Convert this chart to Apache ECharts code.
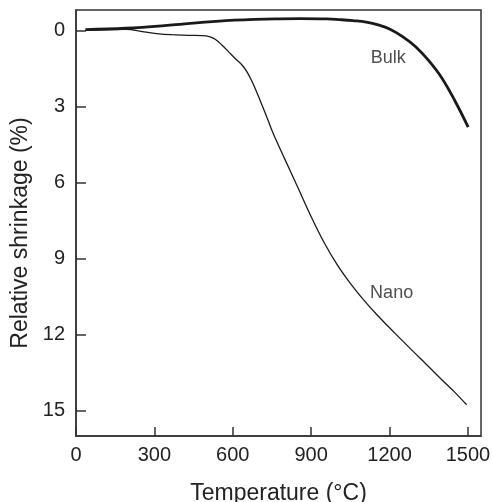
<!DOCTYPE html>
<html>
<head>
<meta charset="utf-8">
<script src="https://cdn.jsdelivr.net/npm/echarts@6/dist/echarts.min.js"></script>
<style>html,body{margin:0;padding:0;background:#fff;}#c{width:492px;height:502px;}</style>
</head>
<body>
<div id="c"></div>
<script>
var xTicks = [0, 300, 600, 900, 1200, 1500];
var yTicks = [0, 3, 6, 9, 12, 15];

var bulkTemp = [36, 190, 381, 573, 764, 857, 960, 1010, 1060, 1111, 1160, 1200, 1250, 1300, 1350, 1400, 1450, 1501];
var bulkShrink = [-0.03, -0.08, -0.22, -0.38, -0.45, -0.46, -0.45, -0.42, -0.38, -0.32, -0.2, -0.05, 0.25, 0.65, 1.2, 1.88, 2.78, 3.82];

var nanoTemp = [36, 120, 190, 260, 317, 381, 430, 483, 510, 534, 560, 585, 610, 637, 655, 675, 695, 713, 735, 754, 800, 850, 900, 950, 1000, 1050, 1100, 1150, 1200, 1250, 1300, 1350, 1400, 1450, 1495];
var nanoShrink = [0, -0.03, -0.04, 0.06, 0.14, 0.18, 0.2, 0.21, 0.25, 0.36, 0.6, 0.86, 1.12, 1.39, 1.65, 2.05, 2.52, 2.98, 3.55, 4.05, 5.1, 6.22, 7.35, 8.38, 9.25, 9.98, 10.62, 11.2, 11.73, 12.25, 12.76, 13.27, 13.78, 14.28, 14.77];

var curveLabels = ['Bulk', 'Nano'];
var labelTemp = [1195, 1208];
var labelShrink = [1.08, 10.35];

function pairs(xs, ys) { return xs.map(function (x, i) { return [x, ys[i]]; }); }

var FONT = "'Liberation Sans', Arial, Helvetica, sans-serif";
var INK = '#222';
var AXIS = '#333';

var chart = echarts.init(document.getElementById('c'));
chart.setOption({
  animation: false,
  backgroundColor: '#fff',
  grid: {left: 76, top: 10, right: 11, bottom: 66, show: true, borderColor: AXIS, borderWidth: 1.5, backgroundColor: 'transparent', containLabel: false, outerBoundsMode: 'none'},
  xAxis: {
    type: 'value', min: 0, max: 1550, position: 'bottom',
    name: 'Temperature (°C)', nameLocation: 'middle', nameGap: 46,
    nameTextStyle: {fontFamily: FONT, fontSize: 23, color: INK},
    axisLine: {show: true, onZero: false, lineStyle: {color: AXIS, width: 1.5}},
    axisTick: {show: true, inside: true, length: 9, customValues: xTicks, lineStyle: {color: AXIS, width: 1.5}},
    axisLabel: {customValues: xTicks, fontFamily: FONT, fontSize: 20, color: INK, margin: 9, formatter: function (v) { return String(v); }},
    splitLine: {show: false}
  },
  yAxis: {
    type: 'value', min: -0.8, max: 16, inverse: true, position: 'left',
    name: 'Relative shrinkage (%)', nameLocation: 'middle', nameGap: 43,
    nameTextStyle: {fontFamily: FONT, fontSize: 23, color: INK, padding: [0, 20, 0, 0]},
    axisLine: {show: true, onZero: false, lineStyle: {color: AXIS, width: 1.5}},
    axisTick: {show: true, inside: true, length: 10, customValues: yTicks, lineStyle: {color: AXIS, width: 1.5}},
    axisLabel: {customValues: yTicks, fontFamily: FONT, fontSize: 20, color: INK, margin: 11},
    splitLine: {show: false}
  },
  series: [
    {type: 'line', name: 'Bulk', data: pairs(bulkTemp, bulkShrink), showSymbol: false, smooth: 0.4, lineStyle: {color: '#1a1a1a', width: 2.8}},
    {type: 'line', name: 'Nano', data: pairs(nanoTemp, nanoShrink), showSymbol: false, smooth: 0.4, lineStyle: {color: '#1a1a1a', width: 1.3}},
    {type: 'scatter', symbolSize: 1, silent: true, itemStyle: {color: 'rgba(0,0,0,0)'},
     data: curveLabels.map(function (n, i) { return {name: n, value: [labelTemp[i], labelShrink[i]]}; }),
     label: {show: true, position: 'inside', formatter: '{b}', fontFamily: FONT, fontSize: 18, color: INK}}
  ]
});
</script>
</body>
</html>
